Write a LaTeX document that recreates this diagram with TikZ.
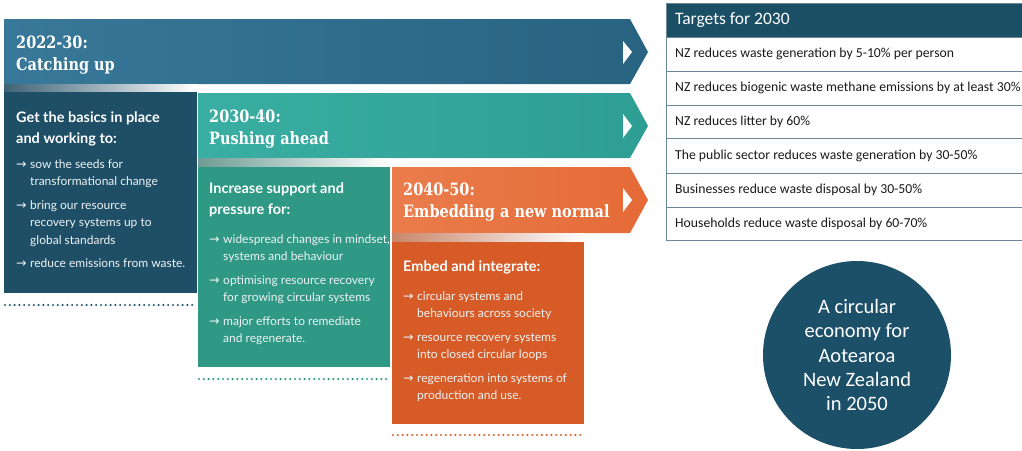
\documentclass[tikz,border=0pt]{standalone}
\usepackage{fontspec}
\setmainfont{Lato}
\newfontfamily\headfont[FakeStretch=0.85]{DejaVu Serif}
\newfontfamily\calfont{Carlito}
\newfontfamily\arrfont{DejaVu Sans}
\newcommand\arr{\makebox[14pt][l]{\arrfont\fontsize{12.5}{12}\selectfont →}}
\newcommand\ind{\hspace*{14pt}}
\definecolor{bannAL}{HTML}{387898}
\definecolor{bannAR}{HTML}{286381}
\definecolor{boxA}{HTML}{1E4F67}
\definecolor{stripA}{HTML}{3F6477}
\definecolor{bannBL}{HTML}{3AAEA2}
\definecolor{bannBR}{HTML}{2E9E94}
\definecolor{boxB}{HTML}{2F9985}
\definecolor{stripB}{HTML}{6E9C94}
\definecolor{bannCL}{HTML}{EA7C4C}
\definecolor{bannCR}{HTML}{E56B37}
\definecolor{boxC}{HTML}{D75B27}
\definecolor{stripC}{HTML}{C9866A}
\definecolor{tblhead}{HTML}{1B4F66}
\definecolor{tblline}{HTML}{6A8896}
\definecolor{circfill}{HTML}{1C5068}
\definecolor{dotA}{HTML}{2D5E76}
\definecolor{dotB}{HTML}{2E9C88}
\definecolor{dotC}{HTML}{E0652F}
\definecolor{rowtext}{HTML}{1A1A1A}
\definecolor{bodytext}{HTML}{EEF3F4}
\begin{document}
\begin{tikzpicture}[x=1pt,y=-1pt,
  heading/.style={anchor=west,inner sep=0pt,align=left,text=white,
     font=\headfont\bfseries\fontsize{17}{22}\selectfont},
  boxhead/.style={anchor=north west,inner sep=0pt,align=left,text=white,
     font=\bfseries\fontsize{14.5}{21}\selectfont},
  bullets/.style={anchor=north west,inner sep=0pt,align=left,text=bodytext,
     font=\fontsize{12}{17.5}\selectfont},
  dotline/.style={line width=2.4pt,line cap=round,dash pattern=on 0pt off 4.8pt},
  chev/.style={fill=white},
  rowbox/.style={draw=tblline,line width=0.8pt},
  rowtxt/.style={anchor=west,inner sep=0pt,text=rowtext,
     font=\calfont\fontsize{13.7}{15}\selectfont}]
\useasboundingbox (0,0) rectangle (1022,450);
\fill[white] (0,0) rectangle (1022,450);

% ---------- stage 1 ----------
\shade[left color=bannAL,right color=bannAR]
  (4,19) -- (630,19) -- (648,52) -- (630,84) -- (4,84) -- cycle;
\fill[chev] (623,41) -- (632,52) -- (623,64) -- cycle;
\shade[left color=stripA,right color=white] (4,84) rectangle (197,92);
\fill[boxA] (4,92) rectangle (197,293);
\node[heading] (h1) at (16,55) {2022-30:\\Catching up};
\node[boxhead] (b1h) at (16,112) {Get the basics in place\\and working to:};
\node[bullets] (b1) at (16,159) {\arr sow the seeds for\\
  \ind transformational change\\[6pt]
  \arr bring our resource\\
  \ind recovery systems up to\\
  \ind global standards\\[6pt]
  \arr reduce emissions from waste.};
\coordinate (d1a) at (5,305);
\coordinate (d1b) at (194,305);
\draw[dotline,dotA] (d1a) -- (d1b);

% ---------- stage 2 ----------
\shade[left color=bannBL,right color=bannBR]
  (198,93) -- (630,93) -- (648,126) -- (630,158) -- (198,158) -- cycle;
\fill[chev] (623,114) -- (632,126) -- (623,138) -- cycle;
\shade[left color=stripB,right color=white] (198,158) rectangle (390,167);
\fill[boxB] (198,167) rectangle (390,367);
\node[heading] (h2) at (209,129) {2030-40:\\Pushing ahead};
\node[boxhead] (b2h) at (209,183) {Increase support and\\pressure for:};
\node[bullets] (b2) at (209,234) {\arr widespread changes in mindset,\\
  \ind systems and behaviour\\[6pt]
  \arr optimising resource recovery\\
  \ind for growing circular systems\\[6pt]
  \arr major efforts to remediate\\
  \ind and regenerate.};
\coordinate (d2a) at (199,379);
\coordinate (d2b) at (388,379);
\draw[dotline,dotB] (d2a) -- (d2b);

% ---------- stage 3 ----------
\shade[left color=bannCL,right color=bannCR]
  (392,167) -- (630,167) -- (648,200) -- (630,233) -- (392,233) -- cycle;
\fill[chev] (623,188) -- (632,200) -- (623,212) -- cycle;
\shade[left color=stripC,right color=white] (392,233) rectangle (584,242);
\fill[boxC] (392,242) rectangle (584,424);
\node[heading] (h3) at (403,202) {2040-50:\\Embedding a new normal};
\node[boxhead] (b3h) at (403,261) {Embed and integrate:};
\node[bullets] (b3) at (403,291) {\arr circular systems and\\
  \ind behaviours across society\\[6pt]
  \arr resource recovery systems\\
  \ind into closed circular loops\\[6pt]
  \arr regeneration into systems of\\
  \ind production and use.};
\coordinate (d3a) at (393,435);
\coordinate (d3b) at (583,435);
\draw[dotline,dotC] (d3a) -- (d3b);

% ---------- targets table ----------
\fill[tblhead] (666,3) rectangle (1030,37);
\draw[tblline,line width=0.8pt] (666,3) rectangle (1030,37);
\node[anchor=west,inner sep=0pt,text=white,font=\calfont\fontsize{17.5}{20}\selectfont]
  (th) at (675,20) {Targets for 2030};
\draw[rowbox] (666,37) rectangle (1030,71);
\draw[rowbox] (666,71) rectangle (1030,105);
\draw[rowbox] (666,105) rectangle (1030,138);
\draw[rowbox] (666,138) rectangle (1030,173);
\draw[rowbox] (666,173) rectangle (1030,207);
\draw[rowbox] (666,207) rectangle (1030,240);
\node[rowtxt] (r1) at (675,54) {NZ reduces waste generation by 5-10\% per person};
\node[rowtxt] (r2) at (675,88) {NZ reduces biogenic waste methane emissions by at least 30\%};
\node[rowtxt] (r3) at (675,121.5) {NZ reduces litter by 60\%};
\node[rowtxt] (r4) at (675,155.5) {The public sector reduces waste generation by 30-50\%};
\node[rowtxt] (r5) at (675,190) {Businesses reduce waste disposal by 30-50\%};
\node[rowtxt] (r6) at (675,223.5) {Households reduce waste disposal by 60-70\%};

% ---------- circle ----------
\node[circle,fill=circfill,minimum size=188pt,inner sep=0pt] (goal) at (857,355) {};
\node[align=center,text=white,inner sep=0pt,font=\calfont\fontsize{20.5}{24.3}\selectfont]
  (goaltxt) at (goal.center) {A circular\\economy for\\Aotearoa\\New Zealand\\in 2050};
\end{tikzpicture}
\end{document}
